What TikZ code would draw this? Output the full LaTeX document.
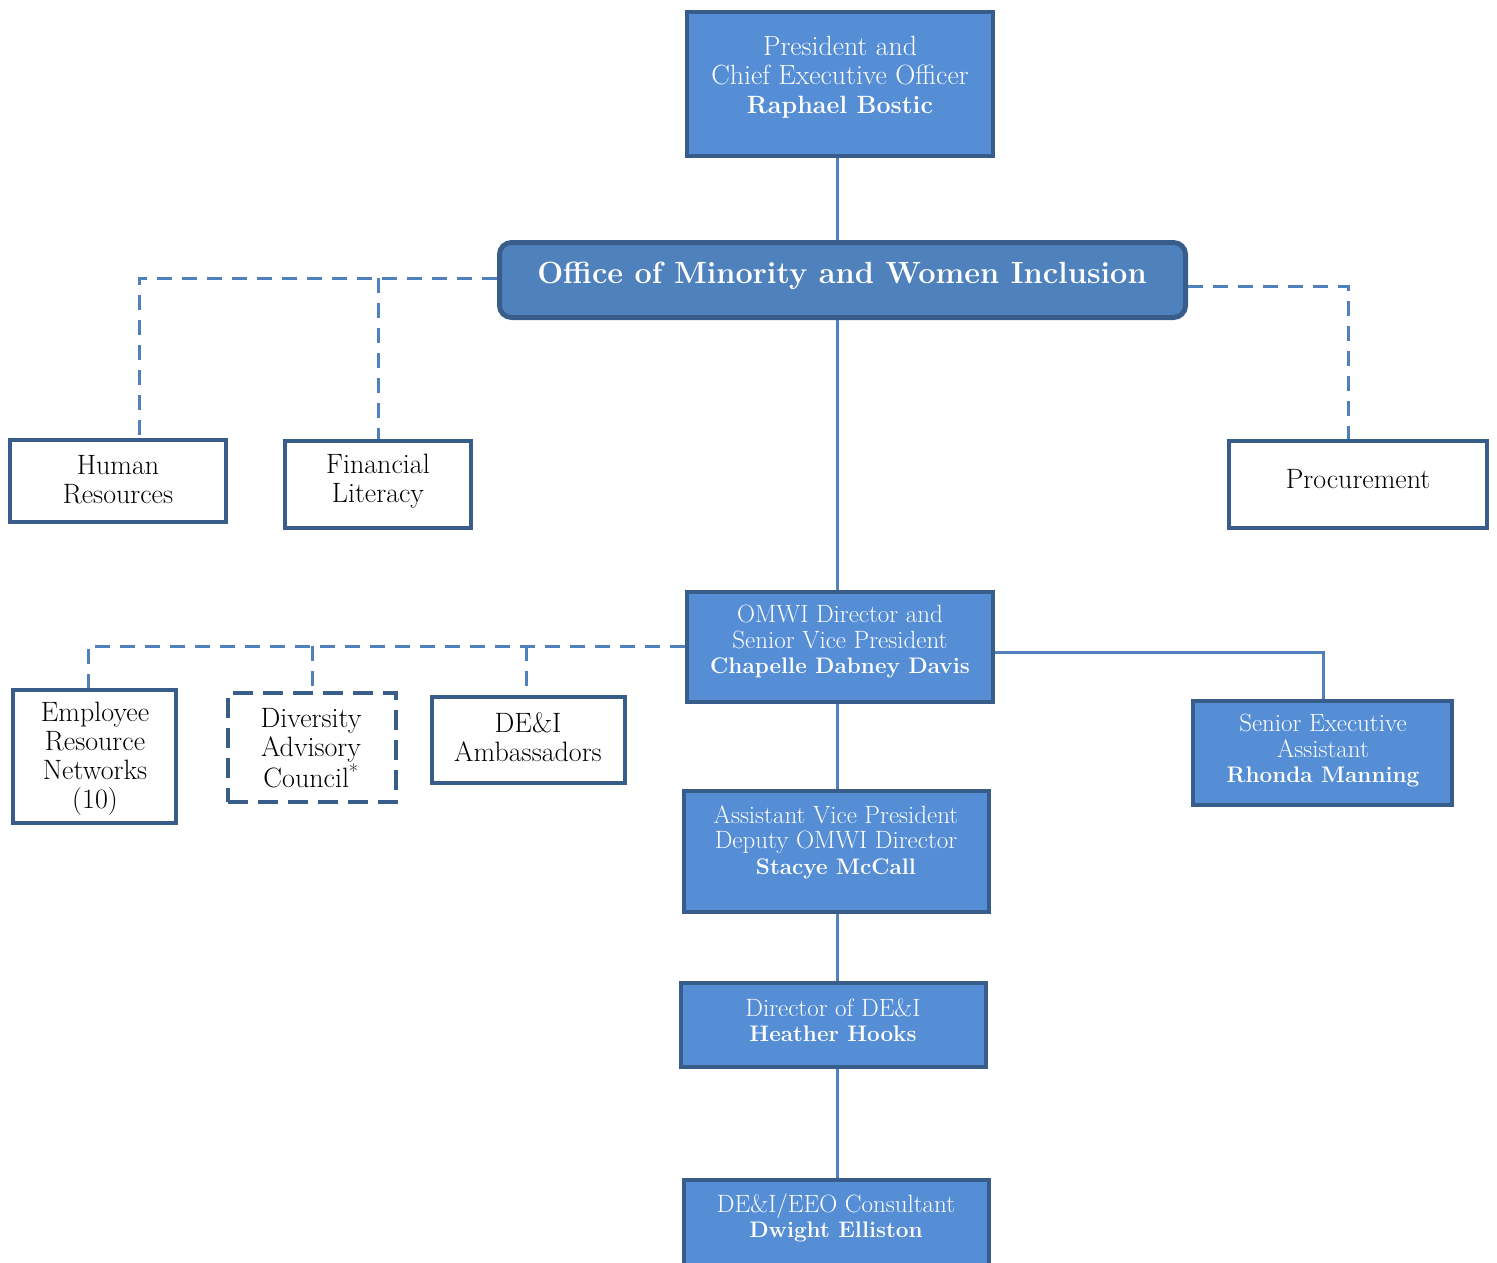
\documentclass[tikz,border=0pt]{standalone}
\usepackage{fontspec}
\begin{document}
\definecolor{boxblue}{HTML}{558ED5}
\definecolor{omwiblue}{HTML}{4F81BD}
\definecolor{bdr}{HTML}{385D8A}
\definecolor{linec}{HTML}{4F81BD}
\newcommand{\nmS}[1]{{\fontsize{22.5}{25.5}\selectfont\bfseries #1}}
\newcommand{\nmL}[1]{{\fontsize{25}{29}\selectfont\bfseries #1}}
\begin{tikzpicture}[x=1pt,y=-1pt,
  bluebox/.style={draw=bdr, line width=4pt, fill=boxblue, inner sep=0pt},
  whitebox/.style={draw=bdr, line width=4pt, fill=white, inner sep=0pt},
  wtext/.style={text=white, align=center, inner sep=0pt, font=\fontsize{25}{25.5}\selectfont},
  btext/.style={text=black, align=center, inner sep=0pt, font=\fontsize{28}{29}\selectfont},
  conn/.style={draw=linec, line width=3pt},
  dconn/.style={draw=linec, line width=3pt, dash pattern=on 15pt off 10pt}]
\useasboundingbox (0,0) rectangle (1497,1263);
\clip (0,0) rectangle (1497,1263);

% x positions of connector drops
\coordinate (spine) at (837,0);
\coordinate (xhr) at (139,0);
\coordinate (xfl) at (378,0);
\coordinate (xproc) at (1348,0);
\coordinate (xern) at (88,0);
\coordinate (xdac) at (312,0);
\coordinate (xamb) at (526,0);
\coordinate (xsea) at (1323,0);

% boxes
\node[bluebox, minimum width=306pt, minimum height=144pt] (pres) at (840,84) {};
\node[draw=bdr, line width=5pt, fill=omwiblue, rounded corners=12pt, minimum width=686pt, minimum height=75pt, inner sep=0pt] (omwi) at (842.5,280) {};
\node[whitebox, minimum width=216pt, minimum height=82pt] (hr) at (118,481) {};
\node[whitebox, minimum width=186pt, minimum height=87pt] (fl) at (378,484.5) {};
\node[whitebox, minimum width=258pt, minimum height=87pt] (proc) at (1358,484.5) {};
\node[bluebox, minimum width=306pt, minimum height=110pt] (dir) at (840,647) {};
\node[whitebox, minimum width=163pt, minimum height=133pt] (ern) at (94.5,756.5) {};
\node[whitebox, draw=bdr, dash pattern=on 20pt off 10pt, minimum width=168pt, minimum height=109pt] (dac) at (312,747.5) {};
\node[whitebox, minimum width=193pt, minimum height=86pt] (amb) at (528.5,740) {};
\node[bluebox, minimum width=259pt, minimum height=104pt] (sea) at (1322.5,753) {};
\node[bluebox, minimum width=305pt, minimum height=121pt] (avp) at (836.5,851.5) {};
\node[bluebox, minimum width=305pt, minimum height=84pt] (dirdei) at (833.5,1025) {};
\node[bluebox, minimum width=305pt, minimum height=108pt] (cons) at (836.5,1234) {};

% texts
\node[wtext, font=\fontsize{27.8}{29}\selectfont] (pres-t) at (840,77) {President and\\Chief Executive Officer\\\nmL{Raphael Bostic}};
\node[wtext, font=\fontsize{30.7}{34}\selectfont\bfseries] (omwi-t) at (842,276) {Office of Minority and Women Inclusion};
\node[btext] (hr-t) at (118,480) {Human\\Resources};
\node[btext] (fl-t) at (378,481) {Financial\\Literacy};
\node[btext] (proc-t) at (1358,479) {Procurement};
\node[wtext] (dir-t) at (840,642) {OMWI Director and\\Senior Vice President\\\nmS{Chapelle Dabney Davis}};
\node[btext] (ern-t) at (95,759) {Employee\\Resource\\Networks\\(10)};
\node[btext] (dac-t) at (311,748) {Diversity\\Advisory\\Council\textsuperscript{*}};
\node[btext] (amb-t) at (528,737) {DE\&I\\Ambassadors};
\node[wtext] (sea-t) at (1323,751) {Senior Executive\\Assistant\\\nmS{Rhonda Manning}};
\node[wtext] (avp-t) at (836,842) {Assistant Vice President\\Deputy OMWI Director\\\nmS{Stacye McCall}};
\node[wtext] (dirdei-t) at (833,1020) {Director of DE\&I\\\nmS{Heather Hooks}};
\node[wtext] (cons-t) at (836,1218) {DE\&I/EEO Consultant\\\nmS{Dwight Elliston}};

% connectors
\draw[conn] (pres.south -| spine) -- (omwi.north -| spine);
\draw[conn] (omwi.south -| spine) -- (dir.north -| spine);
\draw[conn] (dir.south -| spine) -- (avp.north -| spine);
\draw[conn] (avp.south -| spine) -- (dirdei.north -| spine);
\draw[conn] (dirdei.south -| spine) -- (cons.north -| spine);
\draw[dconn] ([yshift=2pt]omwi.west) -| (xhr |- hr.north);
\draw[dconn] ([yshift=2pt]omwi.west -| xfl) -- (xfl |- fl.north);
\draw[dconn] ([yshift=-6pt]omwi.east) -| (xproc |- proc.north);
\draw[dconn] ([yshift=1pt]dir.west) -| (xern |- ern.north);
\draw[dconn] ([yshift=1pt]dir.west -| xdac) -- (xdac |- dac.north);
\draw[dconn] ([yshift=1pt]dir.west -| xamb) -- (xamb |- amb.north);
\draw[conn] ([yshift=-5pt]dir.east) -| (xsea |- sea.north);
\end{tikzpicture}
\end{document}
